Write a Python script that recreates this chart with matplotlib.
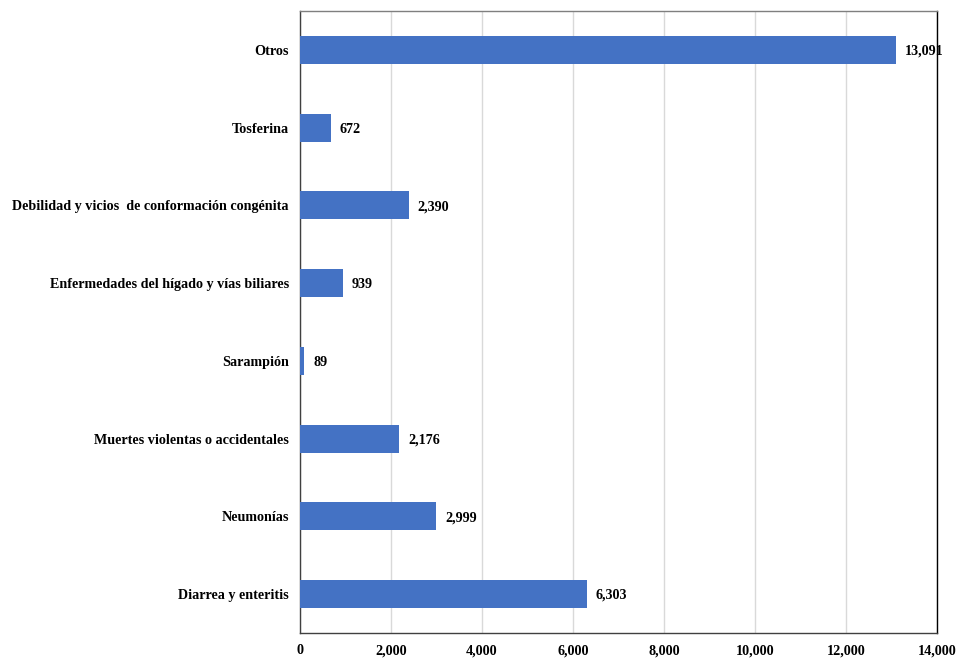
import matplotlib
matplotlib.use("Agg")
import matplotlib.pyplot as plt
from matplotlib.ticker import FuncFormatter, MultipleLocator

categories = ["Diarrea y enteritis", "Neumonías", "Muertes violentas o accidentales",
              "Sarampión", "Enfermedades del hígado y vías biliares",
              "Debilidad y vicios  de conformación congénita", "Tosferina", "Otros"]
values = [6303, 2999, 2176, 89, 939, 2390, 672, 13091]

plt.rcParams['font.family'] = ['Liberation Serif', 'DejaVu Serif']
plt.rcParams['font.weight'] = 'bold'

fig = plt.figure(figsize=(9.6, 6.58), dpi=100)
ax = fig.add_axes([300/960, 1-633/658, (937-300)/960, (633-11)/658])

fs = 10.2
y = list(range(len(categories)))
ax.barh(y, values, height=0.36, color='#4472C4', zorder=3)
for yi, v in zip(y, values):
    ax.annotate(f"{v:,}", xy=(v, yi), xytext=(6.5, -1), textcoords='offset points',
                va='center', ha='left', fontsize=fs, fontweight='bold',
                annotation_clip=False, zorder=5)

ax.set_yticks(y)
ax.set_yticklabels(categories, fontsize=fs, fontweight='bold')
ax.set_ylim(-0.5, len(categories) - 0.5)
ax.set_xlim(0, 14000)
ax.xaxis.set_major_locator(MultipleLocator(2000))
ax.xaxis.set_major_formatter(FuncFormatter(lambda x, p: f"{int(x):,}"))
for lbl in ax.get_xticklabels():
    lbl.set_fontweight('bold')
ax.tick_params(axis='x', labelsize=fs, length=0, pad=8)
ax.tick_params(axis='y', length=0, pad=8)
ax.grid(axis='x', color='#d9d9d9', linewidth=1, zorder=0)
ax.spines['top'].set_color('#7f7f7f')
ax.spines['right'].set_color('#000000')
ax.spines['left'].set_color('#404040')
ax.spines['bottom'].set_color('#404040')
for s in ax.spines.values():
    s.set_linewidth(1)

fig.savefig("out.png", dpi=100)
